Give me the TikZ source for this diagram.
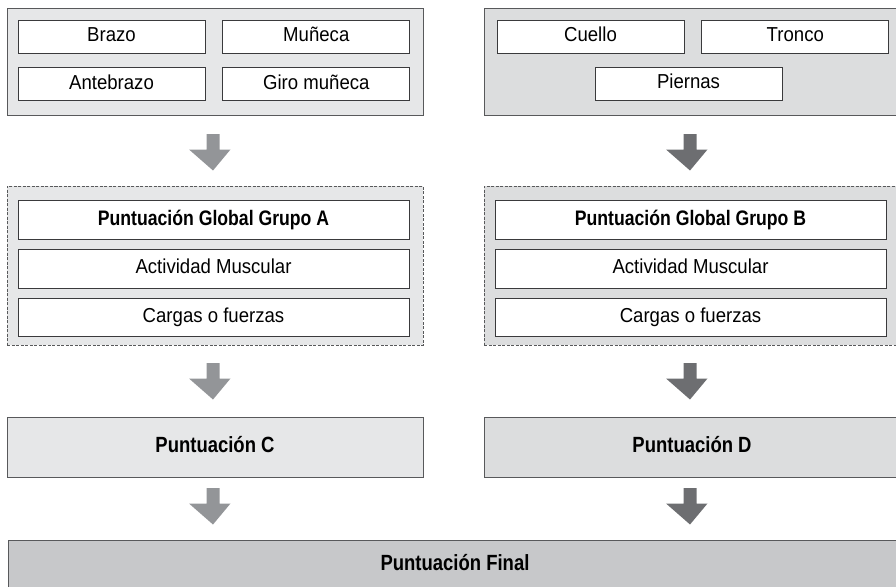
\documentclass[tikz,border=0pt]{standalone}
\usepackage{fontspec}
\setmainfont{Liberation Sans}[FakeStretch=0.92]
\newfontfamily\headfont{Liberation Sans}[FakeStretch=0.84]
\usetikzlibrary{positioning}

\definecolor{panelA}{HTML}{E6E7E8}
\definecolor{panelB}{HTML}{DCDDDE}
\definecolor{panelF}{HTML}{C7C8CA}
\definecolor{arrowA}{HTML}{939598}
\definecolor{arrowB}{HTML}{6D6E71}
\definecolor{rimgray}{HTML}{58595B}
\definecolor{itemrim}{HTML}{3A3A3C}

\tikzset{
	panel/.style={draw=rimgray, line width=1pt, inner sep=0pt, minimum width=416pt},
	grouppanel/.style={panel, dashed, dash pattern=on 3pt off 1.5pt, minimum height=159pt},
	item/.style={draw=itemrim, fill=white, line width=0.8pt, inner sep=0pt,
		minimum width=187pt, minimum height=33pt, text height=14pt, text depth=4pt,
		font=\fontsize{20.2}{22}\selectfont},
	rowitem/.style={item, minimum width=391pt, minimum height=38.5pt},
	headitem/.style={rowitem, font=\headfont\bfseries\fontsize{21}{22}\selectfont},
	score/.style={panel, minimum height=60pt, text height=15pt, text depth=4pt,
		font=\headfont\bfseries\fontsize{22}{24}\selectfont},
}

\begin{document}
\begin{tikzpicture}[x=1pt, y=-1pt]
	\clip (0,0) rectangle (896,586);
	\useasboundingbox (0,0) rectangle (896,586);

	% first row: body segments
	\node[panel, fill=panelA, minimum height=106pt] (topA) at (215,62) {};
	\node[panel, fill=panelB, minimum height=106pt] (topB) at (692,62) {};

	\node[item] (brazo) at (111.5,36.5) {Brazo};
	\node[item, right=17pt of brazo] (muneca) {Muñeca};
	\node[item, below=14pt of brazo] (antebrazo) {Antebrazo};
	\node[item, below=14pt of muneca] (giro) {Giro muñeca};

	\node[item] (cuello) at (590.5,36.5) {Cuello};
	\node[item, right=17pt of cuello] (tronco) {Tronco};
	\node[item] (piernas) at (688.5,83.5) {Piernas};

	% second row: group scores
	\node[grouppanel, fill=panelA] (grpA) at (215,265.5) {};
	\node[grouppanel, fill=panelB] (grpB) at (692,265.5) {};

	\node[headitem] (globalA) at (213.5,220) {Puntuación Global Grupo A};
	\node[rowitem, below=9.5pt of globalA] (actA) {Actividad Muscular};
	\node[rowitem, below=9.5pt of actA] (cargaA) {Cargas o fuerzas};

	\node[headitem] (globalB) at (690.5,220) {Puntuación Global Grupo B};
	\node[rowitem, below=9.5pt of globalB] (actB) {Actividad Muscular};
	\node[rowitem, below=9.5pt of actB] (cargaB) {Cargas o fuerzas};

	% third row and final score
	\node[score, fill=panelA] (scoreC) at (215,447) {Puntuación C};
	\node[score, fill=panelB] (scoreD) at (692,447) {Puntuación D};
	\node[score, fill=panelF, minimum width=894pt, minimum height=50pt] (scoreFinal) at (455,565) {Puntuación Final};

	% block arrows
	\foreach \x/\y/\c in {213/134/arrowA, 690/134/arrowB, 213/363/arrowA,
			690/363/arrowB, 213/488/arrowA, 690/488/arrowB}
		\fill[\c] (\x-6.5,\y) -- ++(13,0) -- ++(0,15.5) -- ++(11,0)
			-- (\x,\y+36.5) -- (\x-24,\y+15.5) -- ++(17.5,0) -- cycle;
\end{tikzpicture}
\end{document}
